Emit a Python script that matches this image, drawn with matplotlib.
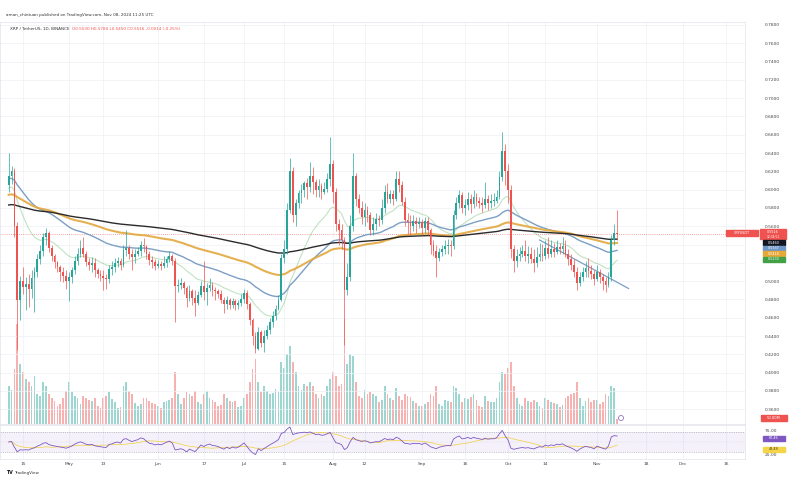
import numpy as np
import pandas as pd
import matplotlib
matplotlib.use('Agg')
import matplotlib.pyplot as plt
import matplotlib.dates as mdates
from matplotlib.patches import Rectangle, Ellipse

# daily candles XRP/USDT, 2024-04-10 .. 2024-11-08
dates = pd.date_range('2024-04-10', '2024-11-08', freq='D')
first_open = 0.605
closes = [
    0.615, 0.620, 0.560, 0.480, 0.500, 0.494, 0.497, 0.492, 0.504, 0.510, 0.524, 0.533, 0.548, 0.553, 0.536, 0.527, 0.521, 0.515, 0.510, 0.506, 0.500,
    0.505, 0.512, 0.522, 0.530, 0.536, 0.530, 0.521, 0.518, 0.520, 0.512, 0.508, 0.506, 0.503, 0.502, 0.513, 0.515, 0.520, 0.522, 0.518, 0.534, 0.536, 0.530, 0.526, 0.530, 0.533, 0.540, 0.538, 0.530, 0.523, 0.521, 0.517,
    0.519, 0.517, 0.520, 0.524, 0.527, 0.522, 0.495, 0.496, 0.498, 0.493, 0.482, 0.489, 0.482, 0.476, 0.485, 0.495, 0.488, 0.493, 0.496, 0.490, 0.489, 0.486, 0.480, 0.475, 0.480, 0.474, 0.478, 0.474, 0.476, 0.481,
    0.487, 0.475, 0.458, 0.440, 0.426, 0.445, 0.432, 0.440, 0.447, 0.455, 0.462, 0.470, 0.480, 0.525, 0.535, 0.578, 0.620, 0.572, 0.585, 0.596, 0.600, 0.607, 0.603, 0.615, 0.608, 0.600, 0.604, 0.598, 0.601, 0.612, 0.628,
    0.598, 0.562, 0.556, 0.545, 0.490, 0.505, 0.560, 0.615, 0.590, 0.580, 0.570, 0.578, 0.572, 0.556, 0.562, 0.568, 0.567, 0.580, 0.598, 0.590, 0.595, 0.590, 0.612, 0.605, 0.587, 0.567, 0.565, 0.560, 0.566, 0.563, 0.565,
    0.558, 0.566, 0.556, 0.540, 0.533, 0.525, 0.532, 0.535, 0.538, 0.540, 0.538, 0.572, 0.585, 0.594, 0.580, 0.583, 0.590, 0.584, 0.592, 0.588, 0.586, 0.583, 0.590, 0.586, 0.588, 0.588, 0.592, 0.614, 0.642, 0.620,
    0.600, 0.535, 0.522, 0.527, 0.530, 0.533, 0.528, 0.530, 0.524, 0.520, 0.526, 0.530, 0.527, 0.536, 0.530, 0.535, 0.532, 0.537, 0.535, 0.538, 0.530, 0.524, 0.518, 0.510, 0.498, 0.505, 0.510, 0.514, 0.511, 0.508, 0.502,
    0.510, 0.505, 0.500, 0.496, 0.505, 0.545, 0.553, 0.5516,
]
highs = [
    0.640, 0.626, 0.624, 0.565, 0.506, 0.515, 0.505, 0.508, 0.512, 0.516, 0.530, 0.540, 0.553, 0.558, 0.555, 0.540, 0.530, 0.522, 0.518, 0.515, 0.512,
    0.510, 0.516, 0.527, 0.536, 0.545, 0.548, 0.533, 0.525, 0.526, 0.525, 0.514, 0.512, 0.512, 0.508, 0.518, 0.522, 0.525, 0.526, 0.525, 0.540, 0.556, 0.540, 0.535, 0.535, 0.537, 0.544, 0.547, 0.540, 0.533, 0.528, 0.524,
    0.523, 0.522, 0.528, 0.528, 0.533, 0.530, 0.525, 0.502, 0.503, 0.500, 0.495, 0.496, 0.492, 0.490, 0.489, 0.500, 0.522, 0.498, 0.503, 0.499, 0.494, 0.492, 0.490, 0.483, 0.484, 0.482, 0.482, 0.481, 0.480, 0.486,
    0.492, 0.490, 0.477, 0.460, 0.445, 0.450, 0.447, 0.447, 0.452, 0.460, 0.467, 0.474, 0.485, 0.530, 0.545, 0.585, 0.635, 0.625, 0.590, 0.600, 0.606, 0.610, 0.613, 0.630, 0.625, 0.612, 0.612, 0.607, 0.608, 0.618, 0.658,
    0.632, 0.602, 0.568, 0.562, 0.548, 0.520, 0.572, 0.640, 0.618, 0.595, 0.588, 0.585, 0.582, 0.576, 0.570, 0.575, 0.572, 0.590, 0.605, 0.607, 0.600, 0.600, 0.620, 0.620, 0.610, 0.592, 0.575, 0.572, 0.572, 0.570, 0.570,
    0.568, 0.570, 0.570, 0.558, 0.545, 0.540, 0.536, 0.540, 0.545, 0.546, 0.545, 0.578, 0.592, 0.600, 0.598, 0.590, 0.598, 0.595, 0.600, 0.596, 0.592, 0.592, 0.608, 0.594, 0.595, 0.596, 0.600, 0.620, 0.663, 0.650,
    0.628, 0.605, 0.540, 0.535, 0.537, 0.540, 0.545, 0.538, 0.537, 0.535, 0.537, 0.542, 0.541, 0.545, 0.548, 0.545, 0.542, 0.545, 0.542, 0.548, 0.545, 0.535, 0.530, 0.524, 0.515, 0.510, 0.515, 0.522, 0.525, 0.518, 0.512,
    0.518, 0.513, 0.508, 0.505, 0.510, 0.550, 0.562, 0.578,
]
lows = [
    0.598, 0.606, 0.548, 0.425, 0.458, 0.486, 0.468, 0.472, 0.482, 0.466, 0.505, 0.519, 0.528, 0.540, 0.532, 0.522, 0.514, 0.510, 0.500, 0.499, 0.492,
    0.478, 0.498, 0.508, 0.518, 0.526, 0.526, 0.517, 0.512, 0.510, 0.505, 0.503, 0.500, 0.490, 0.491, 0.498, 0.507, 0.510, 0.515, 0.512, 0.515, 0.528, 0.524, 0.512, 0.520, 0.527, 0.528, 0.532, 0.524, 0.518, 0.514, 0.512,
    0.514, 0.512, 0.514, 0.515, 0.521, 0.518, 0.455, 0.488, 0.492, 0.486, 0.472, 0.478, 0.474, 0.462, 0.474, 0.483, 0.480, 0.474, 0.489, 0.484, 0.480, 0.482, 0.476, 0.465, 0.470, 0.470, 0.471, 0.468, 0.470, 0.473,
    0.476, 0.470, 0.452, 0.430, 0.421, 0.425, 0.428, 0.423, 0.437, 0.442, 0.450, 0.458, 0.468, 0.478, 0.520, 0.530, 0.575, 0.565, 0.560, 0.580, 0.585, 0.592, 0.590, 0.598, 0.595, 0.592, 0.592, 0.590, 0.595, 0.598, 0.604,
    0.585, 0.555, 0.540, 0.535, 0.430, 0.485, 0.500, 0.555, 0.582, 0.574, 0.562, 0.560, 0.565, 0.550, 0.550, 0.556, 0.560, 0.562, 0.575, 0.585, 0.585, 0.583, 0.588, 0.598, 0.583, 0.560, 0.552, 0.550, 0.555, 0.553, 0.558,
    0.550, 0.553, 0.550, 0.530, 0.527, 0.505, 0.522, 0.527, 0.530, 0.530, 0.528, 0.535, 0.568, 0.580, 0.575, 0.572, 0.578, 0.575, 0.580, 0.582, 0.580, 0.576, 0.580, 0.578, 0.580, 0.582, 0.585, 0.590, 0.610, 0.605,
    0.585, 0.525, 0.510, 0.515, 0.522, 0.526, 0.522, 0.520, 0.520, 0.510, 0.516, 0.522, 0.522, 0.524, 0.525, 0.526, 0.526, 0.530, 0.530, 0.530, 0.526, 0.518, 0.512, 0.505, 0.490, 0.495, 0.500, 0.505, 0.505, 0.502, 0.496,
    0.500, 0.498, 0.490, 0.488, 0.494, 0.500, 0.540, 0.545,
]
# volume in millions
volumes = [
    380, 340, 550, 1000, 600, 520, 450, 420, 380, 480, 300, 280, 420, 380, 300, 260, 230, 180, 200, 260, 330,
    420, 320, 280, 260, 200, 280, 260, 240, 230, 260, 180, 160, 260, 280, 320, 250, 220, 160, 170, 380, 420, 330, 300, 210, 180, 200, 260, 260, 230, 210, 200,
    180, 160, 220, 230, 240, 260, 520, 300, 200, 260, 320, 300, 280, 330, 220, 200, 300, 330, 260, 240, 220, 180, 190, 300, 260, 230, 220, 230, 170, 180,
    260, 300, 420, 550, 650, 420, 320, 380, 330, 300, 310, 350, 320, 620, 560, 700, 780, 620, 520, 380, 340, 400, 380, 420, 380, 300, 260, 300, 280, 380, 450,
    520, 480, 380, 400, 1050, 600, 700, 680, 420, 280, 260, 340, 300, 320, 300, 280, 220, 240, 380, 300, 260, 240, 360, 280, 240, 300, 280, 270, 230, 210, 180,
    180, 200, 220, 300, 280, 380, 200, 180, 240, 230, 220, 380, 360, 300, 220, 260, 250, 270, 300, 240, 180, 170, 280, 230, 220, 220, 260, 420, 520, 500,
    560, 620, 380, 260, 200, 180, 260, 230, 220, 240, 220, 180, 160, 260, 240, 220, 210, 200, 170, 190, 260, 280, 300, 310, 420, 260, 180, 230, 260, 220, 240,
    240, 200, 220, 300, 280, 380, 360, 50,
]
# moving average starting levels read at the left edge of the chart
ema_periods = [20, 50, 100, 200]
ema_seeds = [0.600, 0.612, 0.594, 0.583]
ema_colors = ['#4caf50', '#7b9fc4', '#e3a83e', '#2b2b2b']
# drawn trend line
trend_dates = ['2024-10-12', '2024-11-12']
trend_prices = [0.545, 0.492]

date_ticks = ['2024-04-15', '2024-05-01', '2024-05-13', '2024-06-01', '2024-06-17', '2024-07-01',
              '2024-07-15', '2024-08-01', '2024-08-12', '2024-09-01', '2024-09-16', '2024-10-01',
              '2024-10-14', '2024-11-01', '2024-11-18', '2024-12-01', '2024-12-16']
date_labels = ['15', 'May', '13', 'Jun', '17', 'Jul', '15', 'Aug', '12', 'Sep', '16', 'Oct', '14', 'Nov', '18', 'Dec', '16']

UP, DOWN = '#26a69a', '#ef5350'
W, H = 789, 484


def ema(vals, n, seed):
    a = 2.0 / (n + 1)
    out, e = [], seed
    for v in vals:
        e = e + a * (v - e)
        out.append(e)
    return np.array(out)


def rsi(vals, n=14, seed=0.008):
    g, l = seed, seed
    out = [50.0]
    for i in range(1, len(vals)):
        d = vals[i] - vals[i - 1]
        g = (g * (n - 1) + max(d, 0)) / n
        l = (l * (n - 1) + max(-d, 0)) / n
        out.append(100 - 100 / (1 + g / l))
    return np.array(out)


closes = np.array(closes)
opens = np.concatenate([[first_open], closes[:-1]])
highs = np.array(highs)
lows = np.array(lows)
volumes = np.array(volumes, dtype=float)
x = mdates.date2num(dates)
up = closes >= opens

fig = plt.figure(figsize=(W / 100, H / 100), dpi=100)
fig.patch.set_facecolor('white')

# x scale: 2.87 px per day, Apr 15 at 23 px
px_day = 2.87
x0 = mdates.date2num(pd.Timestamp('2024-04-15')) - 23 / px_day
x1 = x0 + 745 / px_day


def p2y(p):
    return 25 + (0.78 - p) * 915


rect_main = [0, (H - 424) / H, 745 / W, (424 - 22) / H]
axv = fig.add_axes(rect_main)
ax = fig.add_axes(rect_main)
ax.patch.set_alpha(0)

# volume overlay
vcol = np.where(up, UP, DOWN)
axv.bar(x, volumes, width=0.62, color=vcol, alpha=0.45, linewidth=0)
axv.set_ylim(0, 4020)
axv.set_xlim(x0, x1)
axv.axis('off')

# candles
ax.vlines(x, lows, highs, colors=vcol, linewidth=0.5, zorder=3)
body = np.maximum(np.abs(closes - opens), 0.0008)
ax.bar(x, body, bottom=np.minimum(opens, closes), width=0.62, color=vcol, linewidth=0, zorder=4)

ema_last = []
for n, s, c in zip(ema_periods, ema_seeds, ema_colors):
    e = ema(closes, n, s)
    ema_last.append(e[-1])
    if n == 20:
        ax.plot(x, e, color=c, lw=0.8, alpha=0.35, zorder=2)
    elif n == 100:
        ax.plot(x, e, color=c, lw=1.5, alpha=0.9, zorder=2)
    else:
        ax.plot(x, e, color=c, lw=1.0, zorder=2)

ax.plot(mdates.date2num(pd.to_datetime(trend_dates)), trend_prices, color='#7b9fc4', lw=0.9, zorder=2)
ax.axhline(closes[-1], color='#ef5350', lw=0.5, ls=(0, (1, 2)), zorder=1)

ymax = 0.78 + 3 / 915
ymin = 0.78 - 399 / 915
ax.set_xlim(x0, x1)
ax.set_ylim(ymin, ymax)
yt = np.arange(0.36, 0.781, 0.02)
ax.set_yticks(yt)
# labels under the price tags are hidden, like on the original scale
ax.set_yticklabels(['' if abs(v - 0.54) < 1e-6 or abs(v - 0.52) < 1e-6 else '{:.4f}'.format(v) for v in yt])
ax.yaxis.tick_right()
ax.tick_params(axis='y', length=0, pad=14, labelsize=3.2, labelcolor='#444')
ax.set_xticks(mdates.date2num(pd.to_datetime(date_ticks)))
ax.tick_params(axis='x', length=0, labelbottom=False)
ax.grid(True, color='#eef0f5', lw=0.5)
ax.set_axisbelow(True)
for sp in ax.spines.values():
    sp.set_color('#e0e3eb')
    sp.set_linewidth(0.5)

# RSI pane
axr = fig.add_axes([0, (H - 459) / H, 745 / W, (459 - 425) / H])
r = rsi(closes)
rma = pd.Series(r).rolling(14, min_periods=1).mean().values
axr.axhspan(30, 70, color='#7e57c2', alpha=0.08, lw=0)
for lvl in (70, 30):
    axr.axhline(lvl, color='#9598a1', lw=0.4, ls=(0, (2, 2)))
axr.axhline(50, color='#c0c3cc', lw=0.3, ls=(0, (1, 2)))
axr.plot(x, rma, color='#f2cf3d', lw=0.5)
axr.plot(x, r, color='#7e57c2', lw=0.6)
axr.set_xlim(x0, x1)
axr.set_ylim(75 - (459 - 430) / 0.48, 75 + (430 - 425) / 0.48)
axr.set_yticks([25, 75])
axr.set_yticklabels(['25.00', '75.00'])
axr.yaxis.tick_right()
axr.tick_params(axis='y', length=0, pad=14, labelsize=3.2, labelcolor='#444')
axr.set_xticks(mdates.date2num(pd.to_datetime(date_ticks)))
axr.set_xticklabels(date_labels)
axr.tick_params(axis='x', length=0, pad=2, labelsize=3.2, labelcolor='#444')
axr.grid(True, axis='x', color='#eef0f5', lw=0.5)
axr.set_axisbelow(True)
for sp in axr.spines.values():
    sp.set_color('#e0e3eb')
    sp.set_linewidth(0.5)


def fy(ypx):
    return 1 - ypx / H


def tag(yc, h, color, txt, xa=763, xb=785, tc='white', fs=2.6):
    fig.patches.append(Rectangle((xa / W, fy(yc + h / 2)), (xb - xa) / W, h / H,
                                 transform=fig.transFigure, color=color, zorder=5))
    fig.text((xa + xb) / 2 / W, fy(yc), txt, ha='center', va='center', fontsize=fs, color=tc, zorder=6)


# price tags on the right scale
yc = p2y(closes[-1])
tag(yc - 2, 5, '#ef5350', '{:.4f}'.format(closes[-1]), xa=760, xb=786, fs=2.4)
tag(yc + 3, 5, '#ef5350', '12:34:51', xa=760, xb=786, fs=2.1)
tag(yc - 1, 6, '#ef5350', 'XRPUSDT', xa=726, xb=758, fs=2.4)
tag(yc + 9, 5, '#131722', '{:.4f}'.format(ema_last[3]), fs=2.4)
tag(yc + 14.5, 5, '#6f97c8', '{:.4f}'.format(ema_last[1]), fs=2.4)
tag(yc + 20, 5, '#e8a838', '{:.4f}'.format(ema_last[2]), fs=2.4)
tag(yc + 25.5, 5, '#43a047', '{:.4f}'.format(ema_last[0]), fs=2.4)
tag(418, 6, '#ef5350', '{:.2f}M'.format(volumes[-1]), xa=761, xb=787)
tag(430 + (75 - r[-1]) * 0.48 + 2, 5, '#7e57c2', '{:.2f}'.format(r[-1]), fs=2.4)
tag(430 + (75 - rma[-1]) * 0.48 + 4, 5, '#f5d547', '{:.2f}'.format(rma[-1]), tc='#333', fs=2.4)
fig.patches.append(Ellipse((621 / W, fy(418)), 5 / W, 5 / H, transform=fig.transFigure,
                           facecolor='white', edgecolor='#7e57c2', lw=0.5, zorder=5))

# header texts
fig.text(6 / W, fy(15), 'aman_chintuan published on TradingView.com, Nov 08, 2024 11:25 UTC',
         fontsize=3.0, color='#333', va='center')
fig.text(10 / W, fy(28.5), 'XRP / TetherUS, 1D, BINANCE', fontsize=3.0, color='#333', va='center')
o, h, l, c = opens[-1], highs[-1], lows[-1], closes[-1]
fig.text(72 / W, fy(28.5), 'O{:.4f} H{:.4f} L{:.4f} C{:.4f} {:+.4f} ({:+.2f}%)'.format(
    o, h, l, c, c - o, (c - o) / o * 100).replace('+-', '-'), fontsize=3.0, color='#ef5350', va='center')
fig.text(6 / W, fy(473), 'TV', fontsize=3.4, color='#131722', weight='bold', va='center')
fig.text(14 / W, fy(473), 'TradingView', fontsize=3.0, color='#333', va='center')

fig.savefig('out.png', dpi=100, facecolor='white')
